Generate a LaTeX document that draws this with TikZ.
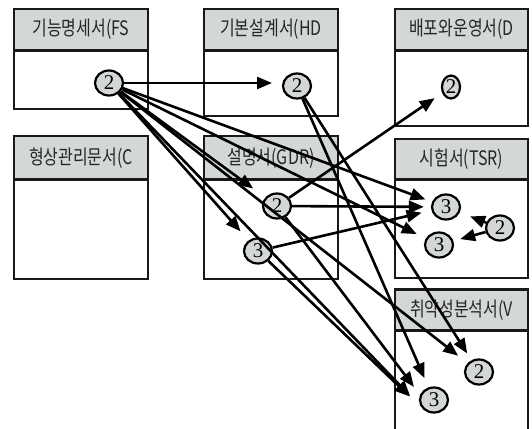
\documentclass[tikz,border=0pt]{standalone}
\usepackage{fontspec}
\setmainfont{Liberation Serif}
\newfontfamily\kr[FakeStretch=0.8]{Noto Sans CJK KR}
\usetikzlibrary{arrows.meta,shapes.geometric}
\definecolor{hdr}{RGB}{212,216,212}
\begin{document}
\begin{tikzpicture}[x=1pt,y=-1pt,
  boxline/.style={line width=2.2pt, draw=black!90},
  hdrtext/.style={font=\kr\fontsize{20}{20}\selectfont, text=black!85, inner sep=0pt},
  num/.style={ellipse, draw, line width=2.2pt, fill=hdr, minimum width=28pt, minimum height=25pt, inner sep=0pt, font=\fontsize{21}{21}\selectfont},
  link/.style={line width=2.6pt, -{Triangle[length=15pt,width=12pt]}}
]
\path[use as bounding box] (0,0) rectangle (532,428);
\clip (0,0) rectangle (532,428);
% boxes
\draw[boxline, fill=hdr] (14,9) rectangle (148,50.5);
\draw[boxline] (14,50.5) rectangle (148,109);
\draw[boxline, fill=hdr] (204,9) rectangle (338,50.5);
\draw[boxline] (204,50.5) rectangle (338,116);
\draw[boxline, fill=hdr] (395,9) rectangle (528,50.5);
\draw[boxline] (395,50.5) rectangle (528,126);
\draw[boxline, fill=hdr] (14,136) rectangle (148,179.5);
\draw[boxline] (14,179.5) rectangle (148,279);
\draw[boxline, fill=hdr] (204,136) rectangle (338,179.5);
\draw[boxline] (204,179.5) rectangle (338,279);
\draw[boxline, fill=hdr] (395,139) rectangle (528,179.5);
\draw[boxline] (395,179.5) rectangle (528,278);
\draw[boxline, fill=hdr] (395,289.5) rectangle (528,330.5);
\draw[boxline] (395,330.5) rectangle (528,440);
% header texts
\node[hdrtext] (fsh) at (81,29.5) {기능명세서(FS};
\node[hdrtext] (hdh) at (271,29.5) {기본설계서(HD};
\node[hdrtext] (dh) at (461.5,29.5) {배포와운영서(D};
\node[hdrtext] (ch) at (81,158) {형상관리문서(C};
\node[hdrtext] (gdrh) at (271,158) {설명서(GDR)};
\node[hdrtext] (tsrh) at (461.5,159) {시험서(TSR)};
\node[hdrtext] (vh) at (461.5,310) {취약성분석서(V};
% numbered items
\node[num] (fs2) at (109,83) {2};
\node[num] (hd2) at (297,86) {2};
\node[num, minimum width=18pt, minimum height=23pt] (d2) at (451,87) {2};
\node[num] (gdr2) at (277,206) {2};
\node[num] (gdr3) at (258,251) {3};
\node[num] (tsr3a) at (446,207) {3};
\node[num] (tsr2) at (500,228) {2};
\node[num] (tsr3b) at (439,245) {3};
\node[num] (v2) at (479,372) {2};
\node[num] (v3) at (434,400) {3};
% links
\draw[link, shorten >=25pt] (fs2) -- (fs2 -| hd2);
\draw[link, shorten >=15pt] (fs2) -- (gdr2);
\draw[link, shorten >=12pt] (fs2) -- (gdr3);
\draw[link, shorten >=7pt] (fs2) -- (tsr3a);
\draw[link, shorten >=10pt] (fs2) -- (tsr3b);
\draw[link, shorten >=12pt] (fs2) -- (v2);
\draw[link, shorten >=19pt] (fs2) -- (v3.south west);
\draw[link, shorten >=8pt] (hd2) -- (v2);
\draw[link, shorten >=10pt] (hd2) -- (v3);
\draw[link, shorten >=9pt] (gdr2) -- (d2);
\draw[link, shorten >=7pt] (gdr2) -- (tsr3a);
\draw[link, shorten >=10pt] (gdr2) -- (v3.160);
\draw[link, shorten >=10pt] (gdr3) -- (tsr3a);
\draw[link, shorten >=19pt] (gdr3) -- (v3.south west);
\draw[link, shorten >=11pt] (tsr2) -- (tsr3a);
\draw[link, shorten >=7pt] (tsr2) -- (tsr3b);
\end{tikzpicture}
\end{document}
